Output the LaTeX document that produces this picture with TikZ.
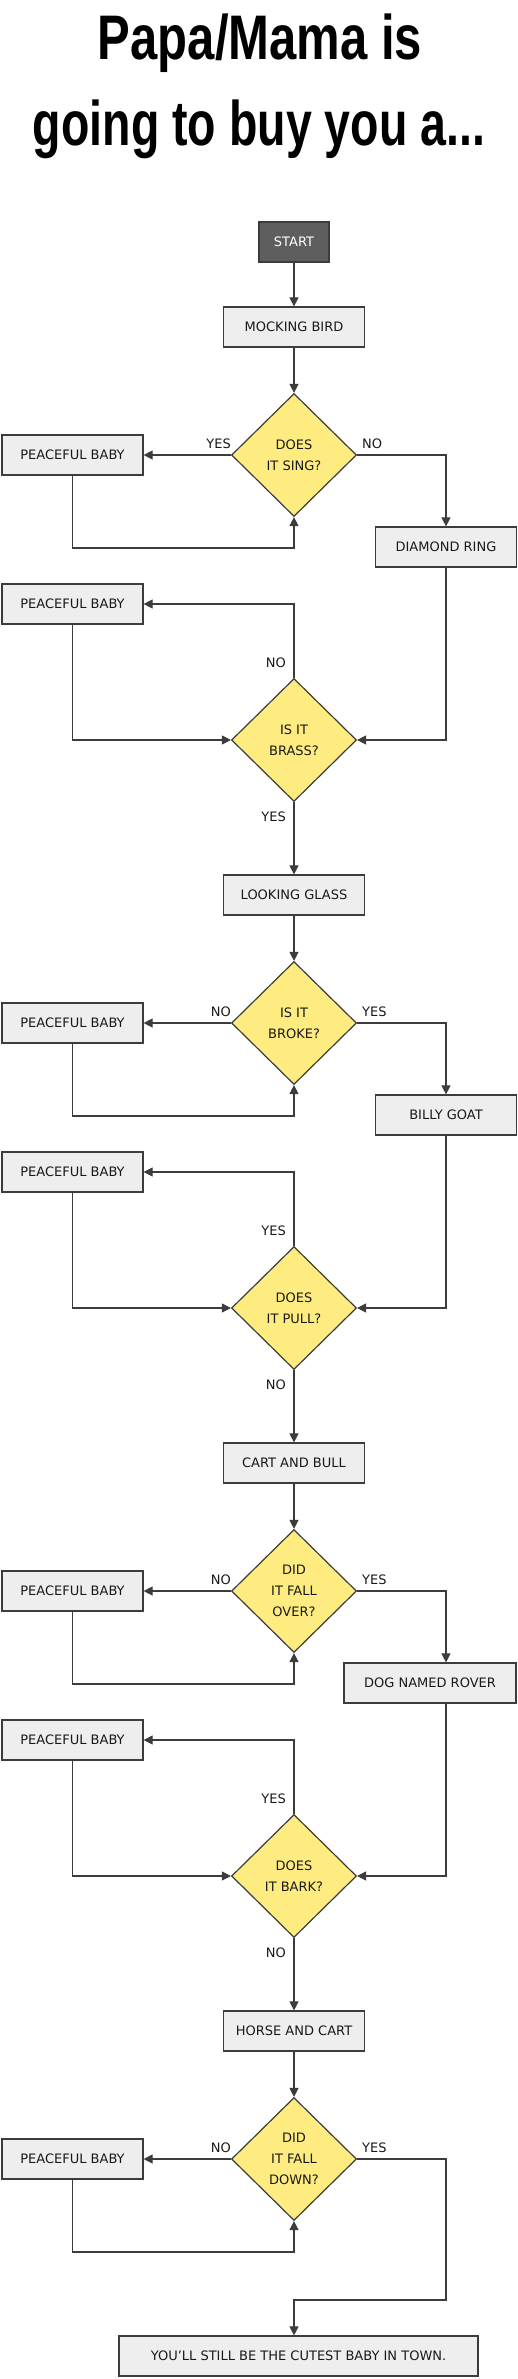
\documentclass[tikz,border=0pt]{standalone}
\usepackage{fontspec}
\usepackage{graphicx}
\setmainfont{DejaVu Sans}
\newfontfamily\titlefont{Liberation Sans}
\usetikzlibrary{shapes.geometric,arrows.meta}
\definecolor{boxfill}{HTML}{EEEEEE}
\definecolor{edge}{HTML}{3C3C3C}
\definecolor{startfill}{HTML}{5E5E5E}
\definecolor{decfill}{HTML}{FFEC80}
\begin{document}
\begin{tikzpicture}[x=1pt,y=-1pt,
  txt/.style={font=\fontsize{13}{21}\selectfont, text=black!90},
  stepbox/.style={txt, rectangle, draw=edge, line width=1.2pt, fill=boxfill, minimum width=141pt, minimum height=40pt, inner sep=0pt},
  startbox/.style={stepbox, fill=startfill, text=white, minimum width=70pt},
  decision/.style={txt, diamond, draw=edge, line width=1.2pt, fill=decfill, minimum width=125pt, minimum height=123pt, inner sep=0pt, align=center},
  lbl/.style={txt, inner sep=0pt},
  conn/.style={draw=edge, line width=1.1pt, -{Triangle[length=9pt,width=9pt]}}
]
\useasboundingbox (0,0) rectangle (518,2379);
\fill[white] (0,0) rectangle (518,2379);

% title
\node[anchor=base, inner sep=0pt] (t1) at (260,60) {\resizebox{324pt}{\height}{\titlefont\bfseries\fontsize{63}{70}\selectfont Papa/Mama is}};
\node[anchor=base, inner sep=0pt] (t2) at (259,146) {\resizebox{452pt}{\height}{\titlefont\bfseries\fontsize{63}{70}\selectfont going to buy you a...}};

\coordinate (rc) at (446,0);

% section A
\node[startbox] (start) at (294,242) {START};
\node[stepbox] (mb) at (294,327) {MOCKING BIRD};
\node[decision] (d1) at (294,455) {DOES\\IT SING?};
\node[stepbox] (pb1) at (72.5,455) {PEACEFUL BABY};
\node[stepbox] (dr) at (446,547) {DIAMOND RING};
\node[stepbox] (pb2) at (72.5,604) {PEACEFUL BABY};
\node[decision] (d2) at (294,740) {IS IT\\BRASS?};
\coordinate (l1) at (294,548);

% section B
\node[stepbox] (lg) at (294,895) {LOOKING GLASS};
\node[decision] (d3) at (294,1023) {IS IT\\BROKE?};
\node[stepbox] (pb3) at (72.5,1023) {PEACEFUL BABY};
\node[stepbox] (bg) at (446,1115) {BILLY GOAT};
\node[stepbox] (pb4) at (72.5,1172) {PEACEFUL BABY};
\node[decision] (d4) at (294,1308) {DOES\\IT PULL?};
\coordinate (l3) at (294,1116);

% section C
\node[stepbox] (cab) at (294,1463) {CART AND BULL};
\node[decision] (d5) at (294,1591) {DID\\IT FALL\\OVER?};
\node[stepbox] (pb5) at (72.5,1591) {PEACEFUL BABY};
\node[stepbox, minimum width=172pt] (dog) at (430,1683) {DOG NAMED ROVER};
\node[stepbox] (pb6) at (72.5,1740) {PEACEFUL BABY};
\node[decision] (d6) at (294,1876) {DOES\\IT BARK?};
\coordinate (l5) at (294,1684);

% section D
\node[stepbox] (hac) at (294,2031) {HORSE AND CART};
\node[decision] (d7) at (294,2159) {DID\\IT FALL\\DOWN?};
\node[stepbox] (pb7) at (72.5,2159) {PEACEFUL BABY};
\node[stepbox, minimum width=359pt] (fin) at (298.5,2356) {YOU'LL STILL BE THE CUTEST BABY IN TOWN.};
\coordinate (l7) at (294,2252);
\coordinate (c7) at (446,2300);

% connectors A
\draw[conn] (start) -- (mb);
\draw[conn] (mb) -- (d1);
\draw[conn] (d1.west) -- (pb1.east);
\draw[conn] (pb1.south) |- (l1) -- (d1.south);
\draw[conn] (d1.east) -| (dr.north);
\draw[conn] (d2.north) |- (pb2.east);
\draw[conn] (pb2.south) |- (d2.west);
\draw[conn] (dr.south) |- (d2.east);
\draw[conn] (d2.south) -- (lg.north);
% connectors B
\draw[conn] (lg) -- (d3);
\draw[conn] (d3.west) -- (pb3.east);
\draw[conn] (pb3.south) |- (l3) -- (d3.south);
\draw[conn] (d3.east) -| (bg.north);
\draw[conn] (d4.north) |- (pb4.east);
\draw[conn] (pb4.south) |- (d4.west);
\draw[conn] (bg.south) |- (d4.east);
\draw[conn] (d4.south) -- (cab.north);
% connectors C
\draw[conn] (cab) -- (d5);
\draw[conn] (d5.west) -- (pb5.east);
\draw[conn] (pb5.south) |- (l5) -- (d5.south);
\draw[conn] (d5.east) -| (dog.north -| rc);
\draw[conn] (d6.north) |- (pb6.east);
\draw[conn] (pb6.south) |- (d6.west);
\draw[conn] (dog.south -| rc) |- (d6.east);
\draw[conn] (d6.south) -- (hac.north);
% connectors D
\draw[conn] (hac) -- (d7);
\draw[conn] (d7.west) -- (pb7.east);
\draw[conn] (pb7.south) |- (l7) -- (d7.south);
\draw[conn] (d7.east) -| (c7) -| (fin.north -| d7.south);

% labels
\node[lbl, anchor=base east] (la1) at (231,448) {YES};
\node[lbl, anchor=base west] (lb1) at (362,448) {NO};
\node[lbl, anchor=base east] (la2) at (286,667) {NO};
\node[lbl, anchor=base east] (lb2) at (286,821) {YES};

\node[lbl, anchor=base east] (la3) at (231,1016) {NO};
\node[lbl, anchor=base west] (lb3) at (362,1016) {YES};
\node[lbl, anchor=base east] (la4) at (286,1235) {YES};
\node[lbl, anchor=base east] (lb4) at (286,1389) {NO};

\node[lbl, anchor=base east] (la5) at (231,1584) {NO};
\node[lbl, anchor=base west] (lb5) at (362,1584) {YES};
\node[lbl, anchor=base east] (la6) at (286,1803) {YES};
\node[lbl, anchor=base east] (lb6) at (286,1957) {NO};

\node[lbl, anchor=base east] (la7) at (231,2152) {NO};
\node[lbl, anchor=base west] (lb7) at (362,2152) {YES};
\end{tikzpicture}
\end{document}
